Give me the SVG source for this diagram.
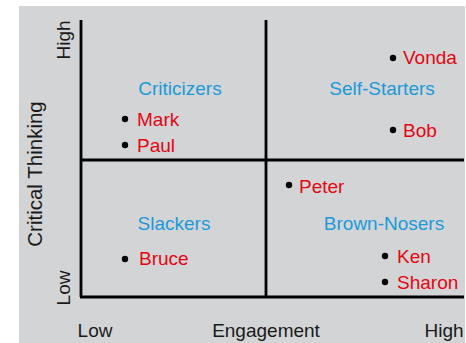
<svg xmlns="http://www.w3.org/2000/svg" width="466" height="343" viewBox="0 0 466 343">
<style>
text{font-family:"Liberation Sans",Arial,sans-serif;font-size:19px}
.ax{fill:#1a1a1a}
.cat{fill:#1b9ad8}
.nm{fill:#e30613}
.dot{fill:#000}
.ln{stroke:#000;stroke-width:2.8;fill:none}
</style>
<rect x="19" y="6" width="446" height="337" fill="#d3d4d6"/>
<g id="connectors">
<line class="ln" x1="81" y1="20" x2="81" y2="297"/>
<line class="ln" x1="80" y1="297" x2="464" y2="297"/>
<line class="ln" x1="266" y1="20" x2="266" y2="297"/>
<line class="ln" x1="81" y1="160" x2="464" y2="160"/>
</g>
<g id="axis-labels">
<text class="ax" transform="translate(70,40) rotate(-90)" text-anchor="middle">High</text>
<text class="ax" transform="translate(70,288) rotate(-90)" text-anchor="middle">Low</text>
<text class="ax" transform="translate(42,174) rotate(-90)" text-anchor="middle" style="font-size:20.5px">Critical Thinking</text>
<text class="ax" x="95" y="337" text-anchor="middle">Low</text>
<text class="ax" x="266" y="337" text-anchor="middle">Engagement</text>
<text class="ax" x="444" y="337" text-anchor="middle">High</text>
</g>
<g id="criticizers">
<text class="cat" x="180" y="95" text-anchor="middle">Criticizers</text>
<circle class="dot" cx="125" cy="119" r="3.2"/><text class="nm" x="137" y="126">Mark</text>
<circle class="dot" cx="125" cy="145" r="3.2"/><text class="nm" x="137" y="152">Paul</text>
</g>
<g id="self-starters">
<text class="cat" x="382" y="95" text-anchor="middle">Self-Starters</text>
<circle class="dot" cx="393" cy="58" r="3.2"/><text class="nm" x="403" y="64">Vonda</text>
<circle class="dot" cx="393" cy="130" r="3.2"/><text class="nm" x="403" y="137">Bob</text>
</g>
<g id="slackers">
<text class="cat" x="174" y="230" text-anchor="middle">Slackers</text>
<circle class="dot" cx="125" cy="259" r="3.2"/><text class="nm" x="139" y="265">Bruce</text>
</g>
<g id="brown-nosers">
<text class="cat" x="384" y="230" text-anchor="middle">Brown-Nosers</text>
<circle class="dot" cx="289" cy="185" r="3.2"/><text class="nm" x="299" y="193">Peter</text>
<circle class="dot" cx="385" cy="256" r="3.2"/><text class="nm" x="397" y="263">Ken</text>
<circle class="dot" cx="385" cy="282" r="3.2"/><text class="nm" x="397" y="289">Sharon</text>
</g>
</svg>
